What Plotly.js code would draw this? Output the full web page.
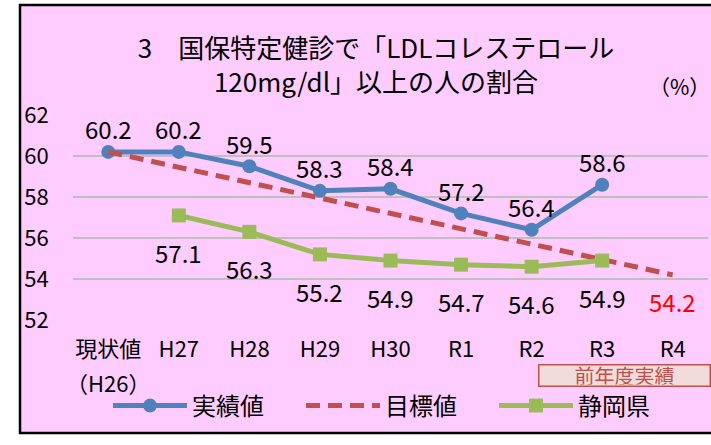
<!DOCTYPE html>
<html><head><meta charset="utf-8">
<script src="https://cdn.plot.ly/plotly-3.0.1.min.js"></script>
<style>html,body{margin:0;padding:0;background:#fff}</style>
</head><body><div id="chart" style="width:711px;height:445px"></div>
<script>
const categories = ['現状値','H27','H28','H29','H30','R1','R2','R3','R4'];
const tickLabels = ['現状値','H27','H28','H29','H30','R1','R2','R3','R4'];
const baselineNote = '（H26）';
const actual   = [60.2, 60.2, 59.5, 58.3, 58.4, 57.2, 56.4, 58.6, null];
const target   = [60.2, null, null, null, null, null, null, null, 54.2];
const shizuoka = [null, 57.1, 56.3, 55.2, 54.9, 54.7, 54.6, 54.9, null];
const seriesNames = ['実績値', '目標値', '静岡県'];

const W = 711, H = 445, ML = 73, MR = 3, MT = 115, MB = 125;
const PW = W - ML - MR, PH = H - MT - MB;
const px = x => (x - ML) / PW;
const py = y => (H - MB - y) / PH;

const FONT = '"Noto Sans CJK JP", "Noto Sans", sans-serif';
const BLUE = '#4F81BD', RED = '#C0504D', GREEN = '#9BBB59', PINK = '#FFCCFF';

const traces = [
  {x: categories, y: actual, name: seriesNames[0], type: 'scatter', mode: 'lines+markers',
   line: {color: BLUE, width: 5}, marker: {symbol: 'circle', size: 14, color: BLUE}},
  {x: categories, y: target, name: seriesNames[1], type: 'scatter', mode: 'lines', connectgaps: true,
   line: {color: RED, width: 5, dash: '14px,8px'}},
  {x: categories, y: shizuoka, name: seriesNames[2], type: 'scatter', mode: 'lines+markers',
   line: {color: GREEN, width: 5}, marker: {symbol: 'square', size: 14, color: GREEN}}
];

const annotations = [];
categories.forEach((c, i) => {
  if (actual[i] != null) annotations.push({x: c, y: actual[i], text: actual[i].toFixed(1), showarrow: false,
    yshift: 23, font: {family: FONT, size: 24, color: '#000'}});
  if (shizuoka[i] != null) annotations.push({x: c, y: shizuoka[i], text: shizuoka[i].toFixed(1), showarrow: false,
    yshift: -37, font: {family: FONT, size: 24, color: '#000'}});
});
const last = categories.length - 1;
annotations.push({x: categories[last], y: target[last], text: target[last].toFixed(1), showarrow: false,
  yshift: -27, font: {family: FONT, size: 24, color: '#FF0000'}});
annotations.push({x: categories[0], yref: 'paper', y: py(382), text: baselineNote, showarrow: false,
  xanchor: 'center', yanchor: 'middle', font: {family: FONT, size: 22, color: '#000'}});
annotations.push({xref: 'paper', yref: 'paper', x: px(679), y: py(86), text: '（%）', showarrow: false,
  xanchor: 'center', yanchor: 'middle', font: {family: FONT, size: 21, color: '#000'}});
annotations.push({xref: 'paper', yref: 'paper', x: px(624), y: py(375), text: '前年度実績', showarrow: false,
  xanchor: 'center', yanchor: 'middle', width: 168, height: 18, borderpad: 1,
  bgcolor: '#F2DCDB', bordercolor: RED, borderwidth: 1.5, font: {family: FONT, size: 20, color: RED}});

const layout = {
  width: W, height: H,
  margin: {l: ML, r: MR, t: MT, b: MB},
  paper_bgcolor: '#FFFFFF', plot_bgcolor: 'rgba(0,0,0,0)',
  font: {family: FONT, color: '#000'},
  title: {text: '3　国保特定健診で「LDLコレステロール<br>120mg/dl」以上の人の割合',
    font: {family: FONT, size: 26, color: '#000'}, x: 376 / W, xanchor: 'center', y: 1 - 58 / H, yanchor: 'top'},
  xaxis: {type: 'category', categoryarray: categories, tickvals: categories, ticktext: tickLabels,
    range: [-0.5, 8.5], showgrid: false, zeroline: false, showline: false,
    ticks: 'outside', ticklen: 10, tickcolor: 'rgba(0,0,0,0)', tickfont: {family: FONT, size: 22, color: '#000'}},
  yaxis: {range: [52, 62], dtick: 2, tick0: 52, showgrid: true, gridcolor: '#BFBFBF', gridwidth: 1.5,
    zeroline: false, showline: false, ticks: 'outside', ticklen: 19, tickcolor: 'rgba(0,0,0,0)',
    tickfont: {family: FONT, size: 22, color: '#000'}},
  showlegend: true,
  legend: {orientation: 'h', x: px(108), xanchor: 'left', y: py(406), yanchor: 'middle',
    font: {family: FONT, size: 24, color: '#000'}, bgcolor: 'rgba(0,0,0,0)', itemwidth: 74,
    entrywidth: 104, entrywidthmode: 'pixels'},
  shapes: [{type: 'rect', xref: 'paper', yref: 'paper', layer: 'below',
    x0: px(20), x1: px(725), y0: py(433), y1: py(5), fillcolor: PINK, line: {color: '#000', width: 2.5}}],
  annotations: annotations
};

Plotly.newPlot('chart', traces, layout, {displayModeBar: false, staticPlot: true});
</script></body></html>
